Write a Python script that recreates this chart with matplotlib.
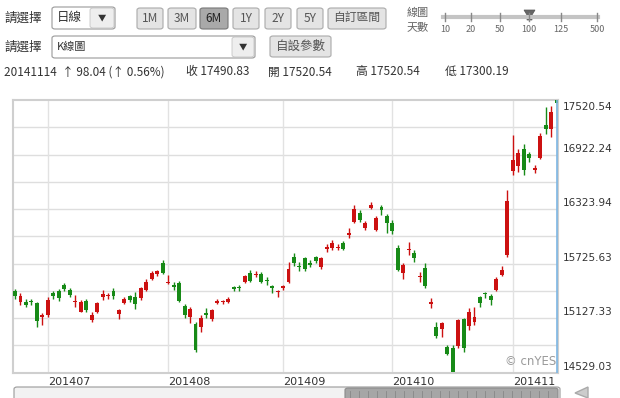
import matplotlib
matplotlib.use("Agg")
import matplotlib.pyplot as plt
import matplotlib.patches as mpatches
import matplotlib.transforms as mtransforms
import numpy as np
import pandas as pd

plt.rcParams["font.family"] = ["Noto Sans CJK TC", "DejaVu Sans"]

# trading days shown (Nikkei 225, 100 days)
holidays = ["2014-07-21", "2014-09-15", "2014-09-23", "2014-10-13", "2014-11-03"]
dates = pd.bdate_range("2014-06-23", "2014-11-14", freq="C", holidays=holidays)

opens = [15428, 15300, 15307, 15315, 15290, 15145,
         15160, 15406, 15428, 15487, 15435, 15305, 15198, 15318, 15107, 15197, 15355,
         15370, 15424, 15172, 15296, 15366, 15355, 15344, 15435, 15562, 15610, 15734,
         15510, 15490, 15509, 15260, 15143, 15063, 15027, 15185, 15114, 15290, 15300,
         15305, 15465, 15470, 15526, 15618, 15600, 15607, 15550, 15480, 15410,
         15455, 15526, 15800, 15700, 15783, 15735, 15793, 15684, 15885, 15892, 15900,
         15954, 16040, 16184, 16283, 16111, 16331, 16093, 16345, 16246,
         16170, 15892, 15625, 15880, 15844, 15580, 15673, 15285, 15033, 15008, 14807,
         14796, 14822, 15114, 15041, 15088, 15355, 15400, 15370, 15435, 15600, 15819,
         16737, 16798, 16985, 16933, 16755, 16879, 17251, 17207, 17520.54]
highs = [15450, 15400, 15340, 15340, 15300, 15180,
         15362, 15420, 15450, 15509, 15454, 15380, 15330, 15340, 15190, 15310, 15435,
         15400, 15461, 15230, 15360, 15380, 15417, 15470, 15560, 15640, 15660, 15764,
         15600, 15520, 15530, 15280, 15250, 15080, 15161, 15235, 15230, 15340, 15330,
         15362, 15480, 15490, 15600, 15654, 15640, 15630, 15581, 15490, 15435,
         15490, 15742, 15837, 15740, 15800, 15760, 15810, 15800, 15937, 15983, 15940,
         15970, 16112, 16367, 16310, 16190, 16400, 16250, 16370, 16270,
         16200, 15930, 15730, 15965, 15874, 15636, 15728, 15344, 15088, 15088, 14833,
         14830, 15120, 15130, 15235, 15252, 15370, 15417, 15390, 15580, 15698, 16533,
         17134, 16988, 17043, 16950, 16805, 17163, 17445, 17450, 17520.54]
lows = [15340, 15270, 15250, 15270, 15033, 15052,
        15143, 15340, 15320, 15420, 15362, 15252, 15190, 15200, 15090, 15180, 15326,
        15340, 15333, 15117, 15280, 15300, 15224, 15330, 15420, 15550, 15590, 15610,
        15500, 15440, 15300, 15128, 15070, 14753, 14978, 15125, 15100, 15280, 15280,
        15290, 15420, 15430, 15510, 15520, 15580, 15510, 15490, 15400, 15362,
        15440, 15510, 15700, 15640, 15650, 15690, 15730, 15670, 15855, 15880, 15870,
        15870, 16002, 16170, 16180, 16090, 16320, 16080, 16260, 16060,
        16050, 15640, 15560, 15819, 15745, 15526, 15460, 15235, 14906, 14924, 14723,
        14529.03, 14800, 14759, 14997, 15052, 15252, 15344, 15271, 15420, 15590, 15800,
        16700, 16732, 16696, 16841, 16725, 16870, 17150, 17116, 17300.19]
closes = [15369, 15370, 15275, 15305, 15095, 15162,
          15326, 15369, 15348, 15443, 15380, 15314, 15302, 15216, 15164, 15296, 15395,
          15379, 15370, 15216, 15343, 15328, 15284, 15457, 15529, 15618, 15646, 15620,
          15523, 15474, 15320, 15160, 15232, 14778, 15130, 15161, 15213, 15314, 15318,
          15333, 15449, 15454, 15586, 15539, 15613, 15521, 15534, 15459, 15424,
          15476, 15668, 15728, 15690, 15668, 15712, 15749, 15788, 15909, 15948, 15911,
          15888, 16067, 16321, 16205, 16167, 16374, 16229, 16310, 16173,
          16082, 15661, 15708, 15891, 15783, 15595, 15478, 15300, 14936, 15073, 14738,
          14532, 15111, 14804, 15195, 15138, 15291, 15388, 15329, 15553, 15658, 16413,
          16862, 16937, 16750, 16885, 16780, 17124, 17197, 17392, 17490.83]

header = "20141114  \u2191 98.04 (\u2191 0.56%)"
quote_labels = ["收 17490.83", "開 17520.54", "高 17520.54", "低 17300.19"]
period_buttons = ["1M", "3M", "6M", "1Y", "2Y", "5Y", "自訂區間"]
slider_labels = ["10", "20", "50", "100", "125", "500"]

W, H = 620, 398
UP, DOWN = "#cc1111", "#178a17"

fig = plt.figure(figsize=(6.2, 3.98), dpi=100)


def fx(x):
    return x / W


def fy(y):
    return 1 - y / H


def box(x0, y0, x1, y1, fc, ec="#a8a8a8", lw=0.8):
    p = mpatches.FancyBboxPatch((fx(x0), fy(y1)), fx(x1) - fx(x0), fy(y0) - fy(y1),
                                boxstyle="round,pad=0,rounding_size=0.005",
                                transform=fig.transFigure, fc=fc, ec=ec, lw=lw)
    fig.add_artist(p)


def label(x, y, s, size=9, color="#333333", ha="left"):
    fig.text(fx(x), fy(y), s, fontsize=size, color=color, ha=ha, va="center")


# --- top controls ---
label(4, 18, "請選擇")
box(52, 7, 115, 29, "#ffffff", ec="#999999")
box(90, 8, 114, 28, "#eeeeee", ec="#bbbbbb", lw=0.5)
label(57, 18, "日線")
label(102, 18, "\u25bc", size=6, ha="center")

btn_x = [(137, 163), (168, 196), (200, 228), (233, 259), (265, 291), (297, 323), (328, 386)]
for (x0, x1), name in zip(btn_x, period_buttons):
    pressed = name == "6M"
    box(x0, 8, x1, 29, "#a9a9a9" if pressed else "#e4e4e4",
        ec="#777777" if pressed else "#aaaaaa")
    label((x0 + x1) / 2, 18.5, name, size=8.5, ha="center",
          color="#222222" if pressed else "#555555")

label(407, 13, "線圖", size=8, color="#666666")
label(407, 27, "天數", size=8, color="#666666")
fig.add_artist(plt.Line2D([fx(443), fx(598)], [fy(17), fy(17)], transform=fig.transFigure,
                          color="#c4c4c4", lw=3))
slider_x = [445, 471, 500, 529, 561, 597]
for sx, s in zip(slider_x, slider_labels):
    fig.add_artist(plt.Line2D([fx(sx), fx(sx)], [fy(13), fy(21)], transform=fig.transFigure,
                              color="#888888", lw=1))
    label(sx, 29, s, size=6.5, color="#666666", ha="center")
thumb = [(524, 10), (535, 10), (532, 15), (532, 20), (527, 20), (527, 15)]
fig.add_artist(mpatches.Polygon([(fx(a), fy(b)) for a, b in thumb], closed=True,
                                transform=fig.transFigure, fc="#666666", ec="#555555", lw=0.5))

label(4, 47, "請選擇")
box(52, 36, 255, 58, "#ffffff", ec="#999999")
box(232, 37, 254, 57, "#eeeeee", ec="#bbbbbb", lw=0.5)
label(57, 47, "K線圖", size=8)
label(243, 47, "\u25bc", size=6, ha="center")
box(270, 36, 331, 57, "#e4e4e4", ec="#aaaaaa")
label(300.5, 46.5, "自設參數", ha="center", color="#555555")

label(4, 72, header, size=8.5)
for qx, s in zip([186, 268, 356, 445], quote_labels):
    label(qx, 72, s, size=8.5)

# --- candlestick chart ---
ax = fig.add_axes([fx(13), fy(372.7), fx(558) - fx(13), fy(100) - fy(372.7)])
idx = np.arange(len(dates))
lo, hi = min(lows), max(highs)
ax.set_xlim(-0.37, 99.27)
ax.set_ylim(lo, hi)

step = (hi - lo) / 10
for k in range(1, 10):
    ax.axhline(lo + k * step, color="#dedede", lw=1, zorder=0)

month_start = [i for i in range(1, len(dates)) if dates[i].month != dates[i - 1].month]
for i in month_start:
    ax.axvline(i, color="#e2e2e2", lw=1, zorder=0)

for i in idx:
    o, h, l, c = opens[i], highs[i], lows[i], closes[i]
    col = UP if c >= o else DOWN
    ax.vlines(i, l, h, color=col, lw=1, zorder=2)
    bottom = min(o, c)
    height = max(abs(c - o), 11)
    ax.bar(i, height, bottom=bottom, width=0.72, color=col, lw=0, zorder=3)

ax.axvline(idx[-1], color="#7db6e3", lw=1.2, zorder=4)
ax.text(0.997, 0.04, "\u00a9 cnYES", transform=ax.transAxes, ha="right", va="center",
        fontsize=8.5, color="#9a9a9a", family=["DejaVu Sans"])

ax.set_xticks([])
ax.set_yticks([])
for sp in ax.spines.values():
    sp.set_color("#cfcfcf")
    sp.set_linewidth(1.5)

for i in month_start:
    ax.text(i, -0.015, dates[i].strftime("%Y%m"), transform=ax.get_xaxis_transform(),
            ha="left", va="top", fontsize=8, color="#333333", family=["DejaVu Sans"])

ytr = mtransforms.blended_transform_factory(ax.transAxes, ax.transData)
for k in range(6):
    v = lo + k * (hi - lo) / 5
    dy = -7 if k == 5 else 6
    tr = mtransforms.offset_copy(ytr, fig=fig, y=dy, units="dots")
    ax.text(1.008, v, "%.2f" % v, transform=tr, ha="left", va="center",
            fontsize=7.5, color="#333333", family=["DejaVu Sans"])

# --- scroll bar at the bottom ---
box(14, 387, 560, 402, "#f2f2f2", ec="#999999")
box(345, 388, 558, 402, "#a6a6a6", ec="#8a8a8a")
for gx in range(350, 556, 9):
    fig.add_artist(plt.Line2D([fx(gx), fx(gx)], [fy(391), fy(398)], transform=fig.transFigure,
                              color="#888888", lw=0.6))
fig.add_artist(mpatches.Polygon([(fx(575), fy(393)), (fx(588), fy(387)), (fx(588), fy(398))],
                                closed=True, transform=fig.transFigure, fc="#cccccc", ec="#aaaaaa"))

fig.savefig("out.png", dpi=100)
